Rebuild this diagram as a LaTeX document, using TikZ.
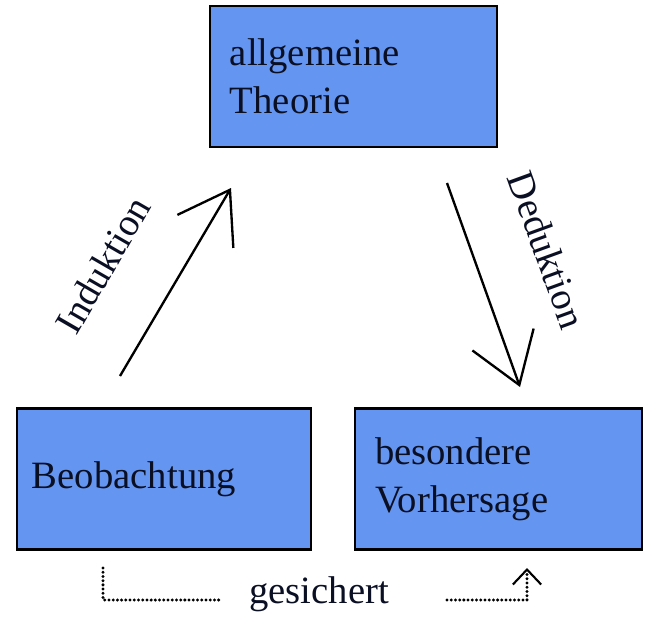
\documentclass[tikz,border=0pt]{standalone}
\usepackage{fontspec}
\setmainfont{Liberation Serif}
\usetikzlibrary{arrows.meta}
\definecolor{boxblue}{RGB}{100,149,240}
\definecolor{inktext}{RGB}{10,15,35}

\begin{document}
\begin{tikzpicture}[x=0.03cm, y=-0.03cm,
  every node/.style={font=\fontsize{33pt}{41pt}\selectfont, text=inktext},
  kasten/.style={draw=black, line width=2.4pt, fill=boxblue, align=left,
                 inner xsep=0.6cm, text width=7.41cm, minimum height=4.23cm},
  schluss/.style={line width=2pt, -{Straight Barb[length=1.45cm, width=1.95cm, line width=2pt]}},
  gesi/.style={line width=2.8pt, line cap=round, dash pattern=on 0pt off 3.6pt}]
  \useasboundingbox (0,0) rectangle (652,620);
  % the three boxes
  \node[kasten] (theorie) at (353.5,76.5) {allgemeine\\Theorie};
  \node[kasten, inner xsep=0.45cm, text width=7.92cm] (beob) at (164,479) {Beobachtung};
  \node[kasten] (vorher) at (498.5,479) {besondere\\Vorhersage};
  % induction up, deduction down
  \coordinate (indA) at (120,376);
  \coordinate (indB) at (231,188);
  \coordinate (dedA) at (447,183);
  \coordinate (dedB) at (520,387);
  \draw[schluss] (indA) -- (indB);
  \draw[schluss] (dedA) -- (dedB);
  \node[rotate=60] (induktion) at (103,265) {Induktion};
  \node[rotate=-70] (deduktion) at (547,250) {Deduktion};
  % dotted bracket underneath
  \node[anchor=base] (gesichert) at (319,603) {gesichert};
  \coordinate (lo) at (103,568);
  \coordinate (lu) at (220,600);
  \coordinate (ru) at (447,600);
  \coordinate (ro) at (527,568);
  \draw[gesi] (lo) |- (lu);
  \draw[gesi, -{Straight Barb[length=0.45cm, width=0.85cm, line width=1.8pt]}] (ru) -| (ro);
\end{tikzpicture}
\end{document}
